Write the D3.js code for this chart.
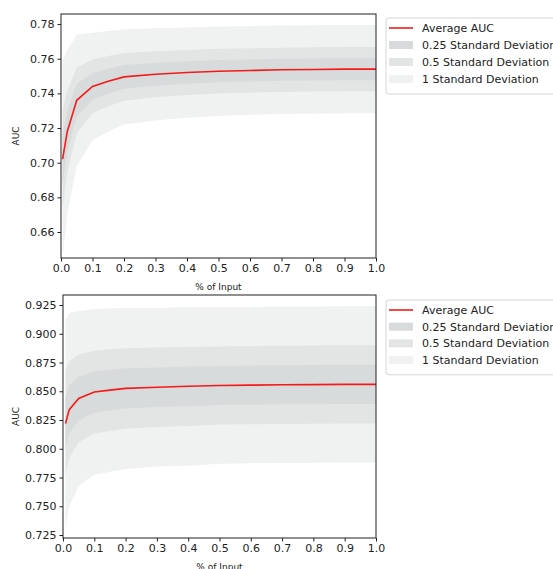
<!DOCTYPE html>
<html>
<head>
<meta charset="utf-8">
<script src="https://cdn.jsdelivr.net/npm/d3@7"></script>
<style>
  body { margin: 0; background: #fff; overflow: hidden; }
  svg { display: block; font-family: "DejaVu Sans", sans-serif; }
</style>
</head>
<body>
<div id="chart"></div>
<script>
// fraction of input used
var xsTop = [0.005, 0.02, 0.05, 0.1, 0.15, 0.2, 0.3, 0.4, 0.5, 0.6, 0.7, 0.8, 0.9, 1.0];
var meanTop = [0.702, 0.718, 0.736, 0.744, 0.747, 0.7495, 0.751, 0.752, 0.7528, 0.7532, 0.7536, 0.7538, 0.754, 0.754];
var stdTop = [0.057, 0.047, 0.038, 0.031, 0.029, 0.0275, 0.0266, 0.026, 0.0258, 0.0256, 0.0255, 0.0255, 0.0255, 0.0255];
var yTicksTop = [0.66, 0.68, 0.70, 0.72, 0.74, 0.76, 0.78];

var xsBot = [0.008, 0.02, 0.05, 0.1, 0.15, 0.2, 0.3, 0.4, 0.5, 0.6, 0.7, 0.8, 0.9, 1.0];
var meanBot = [0.822, 0.834, 0.8437, 0.8493, 0.851, 0.8525, 0.8535, 0.8543, 0.855, 0.8553, 0.8556, 0.8558, 0.856, 0.856];
var stdBot = [0.09, 0.084, 0.076, 0.072, 0.071, 0.07, 0.069, 0.069, 0.068, 0.068, 0.068, 0.068, 0.068, 0.068];
var yTicksBot = [0.725, 0.75, 0.775, 0.80, 0.825, 0.85, 0.875, 0.90, 0.925];

var xTicks = [0, 0.1, 0.2, 0.3, 0.4, 0.5, 0.6, 0.7, 0.8, 0.9, 1.0];
var bandLevels = [1, 0.5, 0.25];
var bandColors = { 1: "#f0f1f1", 0.5: "#e3e5e5", 0.25: "#d8dbdb" };
var legendLabels = ["Average AUC", "0.25 Standard Deviation", "0.5 Standard Deviation", "1 Standard Deviation"];

var svg = d3.select("#chart").append("svg")
    .attr("width", 553)
    .attr("height", 569);

function drawPanel(cfg) {
  var x = d3.scaleLinear().domain([0, 1]).range([cfg.left, 376]);
  var y = d3.scaleLinear().domain(cfg.yDomain).range([cfg.bottom, cfg.top]);

  var g = svg.append("g");

  // std bands, widest first
  bandLevels.forEach(function(k) {
    var area = d3.area()
        .x(function(d, i) { return x(cfg.xs[i]); })
        .y0(function(d, i) { return y(cfg.mean[i] - k * cfg.std[i]); })
        .y1(function(d, i) { return y(cfg.mean[i] + k * cfg.std[i]); });
    g.append("path")
        .datum(cfg.mean)
        .attr("d", area)
        .attr("fill", bandColors[k]);
  });

  var line = d3.line()
      .x(function(d, i) { return x(cfg.xs[i]); })
      .y(function(d) { return y(d); });
  g.append("path")
      .datum(cfg.mean)
      .attr("d", line)
      .attr("fill", "none")
      .attr("stroke", "#f41a1a")
      .attr("stroke-width", 1.6);

  // axes
  var xAxis = d3.axisBottom(x).tickValues(xTicks).tickFormat(d3.format(".1f")).tickSize(3.5).tickPadding(3);
  var yAxis = d3.axisLeft(y).tickValues(cfg.yTicks).tickFormat(d3.format(cfg.fmt)).tickSize(3.5).tickPadding(3);

  var gx = g.append("g").attr("transform", "translate(0," + cfg.bottom + ")").call(xAxis);
  var gy = g.append("g").attr("transform", "translate(" + cfg.left + ",0)").call(yAxis);
  [gx, gy].forEach(function(a) {
    a.select(".domain").remove();
    a.selectAll("text").attr("font-size", 11).attr("fill", "#222").attr("font-family", "DejaVu Sans");
    a.selectAll("line").attr("stroke", "#222");
  });

  g.append("rect")
      .attr("x", cfg.left).attr("y", cfg.top)
      .attr("width", 376 - cfg.left).attr("height", cfg.bottom - cfg.top)
      .attr("fill", "none").attr("stroke", "#222").attr("stroke-width", 1);

  g.append("text")
      .attr("x", (cfg.left + 376) / 2).attr("y", cfg.bottom + 32)
      .attr("text-anchor", "middle").attr("font-size", 9).attr("fill", "#222")
      .text("% of Input");

  g.append("text")
      .attr("transform", "translate(19," + ((cfg.top + cfg.bottom) / 2) + ") rotate(-90)")
      .attr("text-anchor", "middle").attr("font-size", 9).attr("fill", "#222")
      .text("AUC");

  // legend
  var lg = g.append("g").attr("transform", "translate(386," + cfg.legendTop + ")");
  lg.append("rect")
      .attr("x", 0).attr("y", 0).attr("width", 200).attr("height", 4 * cfg.rowH + 8)
      .attr("rx", 3).attr("fill", "#fff").attr("stroke", "#d6d6d6");
  legendLabels.forEach(function(label, i) {
    var cy = 10 + i * cfg.rowH;
    if (i === 0) {
      lg.append("line").attr("x1", 3).attr("x2", 27).attr("y1", cy).attr("y2", cy)
          .attr("stroke", "#f41a1a").attr("stroke-width", 1.6);
    } else {
      lg.append("rect").attr("x", 3).attr("y", cy - 4).attr("width", 24).attr("height", 8)
          .attr("fill", bandColors[bandLevels[3 - i]]);
    }
    lg.append("text").attr("x", 36).attr("y", cy + 4)
        .attr("font-size", 11).attr("fill", "#222").text(label);
  });
}

drawPanel({
  xs: xsTop, mean: meanTop, std: stdTop, yTicks: yTicksTop, fmt: ".2f",
  yDomain: [0.645, 0.7858], left: 61, top: 14, bottom: 258,
  legendTop: 18, rowH: 17
});

drawPanel({
  xs: xsBot, mean: meanBot, std: stdBot, yTicks: yTicksBot, fmt: ".3f",
  yDomain: [0.7224, 0.9337], left: 63, top: 295, bottom: 538,
  legendTop: 300, rowH: 16.7
});
</script>
</body>
</html>
